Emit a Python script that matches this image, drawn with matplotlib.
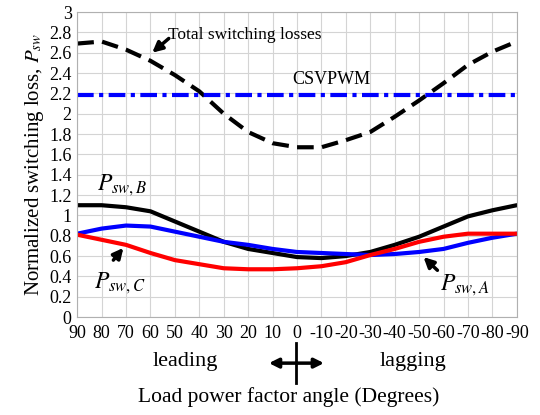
import matplotlib.pyplot as plt
import numpy as np

plt.rcParams['font.family'] = ['Liberation Serif', 'DejaVu Serif']
plt.rcParams['mathtext.fontset'] = 'stix'

# load power factor angle (degrees), leading 90 -> lagging -90
angle = [90, 80, 70, 60, 50, 40, 30, 20, 10, 0, -10, -20, -30, -40, -50, -60, -70, -80, -90]
tick_labels = ['90', '80', '70', '60', '50', '40', '30', '20', '10', '0',
               '-10', '-20', '-30', '-40', '-50', '-60', '-70', '-80', '-90']

total = [2.69, 2.71, 2.63, 2.52, 2.38, 2.22, 2.00, 1.82, 1.71, 1.67,
         1.67, 1.74, 1.82, 1.97, 2.13, 2.30, 2.48, 2.61, 2.71]
csvpwm = 2.18
p_b = [1.10, 1.10, 1.08, 1.04, 0.94, 0.84, 0.74, 0.67, 0.63, 0.59,
       0.58, 0.60, 0.64, 0.71, 0.79, 0.89, 0.99, 1.05, 1.10]
p_a = [0.82, 0.87, 0.90, 0.89, 0.84, 0.79, 0.74, 0.71, 0.67, 0.64,
       0.63, 0.62, 0.61, 0.62, 0.64, 0.67, 0.73, 0.78, 0.82]
p_c = [0.81, 0.76, 0.71, 0.63, 0.56, 0.52, 0.48, 0.47, 0.47, 0.48,
       0.50, 0.54, 0.61, 0.67, 0.74, 0.79, 0.82, 0.82, 0.82]

fig = plt.figure(figsize=(5.4, 4.15), dpi=100)
ax = fig.add_axes([0.143, 0.236, 0.814, 0.735])

kw = dict(lw=3, solid_joinstyle='round', solid_capstyle='round')
ax.plot(angle, total, color='black', lw=3, dashes=(4, 2), dash_joinstyle='round')
ax.axhline(csvpwm, color='blue', lw=3, dashes=(4, 1.3, 1, 1.3))
ax.plot(angle, p_b, color='black', **kw)
ax.plot(angle, p_a, color='blue', **kw)
ax.plot(angle, p_c, color='red', **kw)

ax.set_xlim(90, -90)
ax.set_ylim(0, 3)
ax.set_xticks(angle)
ax.set_xticklabels(tick_labels)
ax.set_yticks(np.arange(0, 3.01, 0.2))
ax.set_yticklabels(['0', '0.2', '0.4', '0.6', '0.8', '1', '1.2', '1.4', '1.6', '1.8',
                    '2', '2.2', '2.4', '2.6', '2.8', '3'])
ax.tick_params(length=0, labelsize=13, pad=4)
ax.tick_params(axis='x', pad=6)
ax.grid(True, color='#d4d4d4', lw=0.8)
for s in ax.spines.values():
    s.set_color('#b0b0b0')
    s.set_linewidth(0.8)

ax.set_ylabel('Normalized switching loss, $P_{sw}$', fontsize=15, labelpad=2)

arr = dict(arrowstyle='-|>', color='black', lw=2.5, mutation_scale=15, shrinkA=0, shrinkB=0)
ax.annotate('', xy=(59.3, 2.60), xytext=(52.5, 2.74), arrowprops=arr)
ax.text(52.7, 2.77, 'Total switching losses', fontsize=12.5, ha='left', va='center')
ax.text(-14, 2.34, 'CSVPWM', fontsize=13, ha='center', va='center')
ax.text(71.6, 1.30, '$P_{sw,B}$', fontsize=17, ha='center', va='center')
ax.annotate('', xy=(71.1, 0.68), xytext=(75.2, 0.56), arrowprops=arr)
ax.text(72.4, 0.33, '$P_{sw,C}$', fontsize=17, ha='center', va='center')
ax.annotate('', xy=(-51.8, 0.59), xytext=(-57.5, 0.46), arrowprops=arr)
ax.text(-68.6, 0.31, '$P_{sw,A}$', fontsize=17, ha='center', va='center')

fig.text(0.343, 0.128, 'leading', fontsize=16, ha='center', va='center')
fig.text(0.765, 0.128, 'lagging', fontsize=16, ha='center', va='center')
fig.text(0.535, 0.043, 'Load power factor angle (Degrees)', fontsize=15.5,
         ha='center', va='center')
fig.add_artist(plt.Line2D([0.548, 0.548], [0.077, 0.173], color='black', lw=2))
ax.annotate('', xy=(0.498, 0.125), xytext=(0.600, 0.125), xycoords='figure fraction',
            arrowprops=dict(arrowstyle='<|-|>', color='black', lw=2.5, mutation_scale=14,
                            shrinkA=0, shrinkB=0))

fig.savefig('out.png', dpi=100)
